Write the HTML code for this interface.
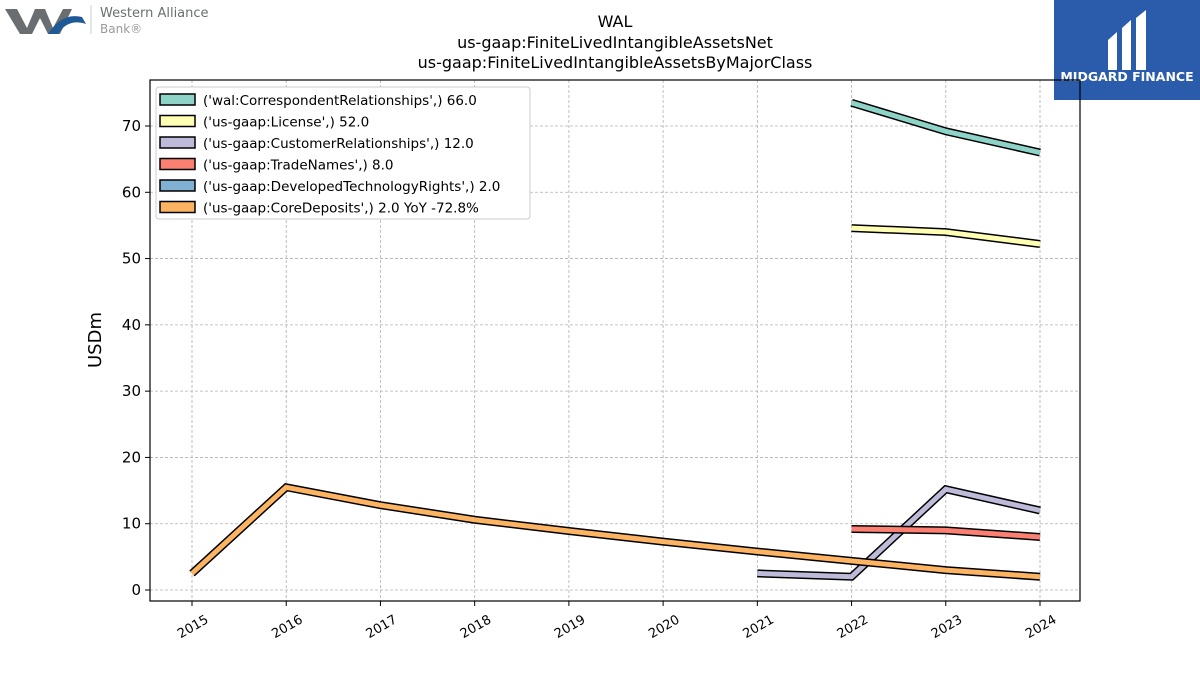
<!DOCTYPE html>
<html><head><meta charset="utf-8"><style>
body{margin:0;background:#fff;width:1200px;height:675px;overflow:hidden;font-family:"Liberation Sans","DejaVu Sans",sans-serif}
svg text{font-family:"DejaVu Sans","Liberation Sans",sans-serif}
</style></head><body>
<svg id="chart" width="1200" height="675" xmlns="http://www.w3.org/2000/svg">
<g>
<polygon points="5,9 17,9 27,28 35,9 45,9 53,28 63,9 72,9 60,34 48,34 40,18 32,34 20,34" fill="#6b6e70"/>
<path d="M48,34 Q62,12 82,17 L86,24 Q68,18 58,34 Z" fill="#1f5a96"/>
<line x1="91" y1="5" x2="91" y2="34" stroke="#ccc"/>
<text x="100" y="17" font-size="13" fill="#6b6e70">Western Alliance</text>
<text x="100" y="33" font-size="12" fill="#999">Bank®</text>
</g>
<g>
<rect x="1054" y="0" width="146" height="100" fill="#2b5cab"/>
<path d="M1108,40 L1117,32 L1117,70 L1108,70 Z M1122,28 L1131,20 L1131,70 L1122,70 Z M1136,18 L1146,10 L1146,70 L1136,70 Z" fill="#fff"/>
<text x="1127" y="81" font-size="12.5" font-weight="bold" fill="#fff" text-anchor="middle">MIDGARD FINANCE</text>
</g>
<text x="615" y="27" font-size="16" text-anchor="middle">WAL</text>
<text x="615" y="48" font-size="16" text-anchor="middle">us-gaap:FiniteLivedIntangibleAssetsNet</text>
<text x="615" y="68" font-size="16" text-anchor="middle">us-gaap:FiniteLivedIntangibleAssetsByMajorClass</text>
<text transform="translate(101,340) rotate(-90)" font-size="18" text-anchor="middle">USDm</text>
<g id="grid"></g><g id="axes"></g><g id="series"></g><g id="legend"></g>
</svg>
<script>
const years=[2015,2016,2017,2018,2019,2020,2021,2022,2023,2024];
const yTicks=[0,10,20,30,40,50,60,70];
const seriesNames=["('wal:CorrespondentRelationships',) 66.0","('us-gaap:License',) 52.0","('us-gaap:CustomerRelationships',) 12.0","('us-gaap:TradeNames',) 8.0","('us-gaap:DevelopedTechnologyRights',) 2.0","('us-gaap:CoreDeposits',) 2.0 YoY -72.8%"];
const seriesColors=["#8dd3c7","#ffffb3","#bebada","#fb8072","#80b1d3","#fdb462"];
const correspondent=[null,null,null,null,null,null,null,73.5,69.2,66.0];
const license=[null,null,null,null,null,null,null,54.6,54.0,52.2];
const customer=[null,null,null,null,null,null,2.5,2.0,15.2,12.0];
const tradeNames=[null,null,null,null,null,null,null,9.2,9.0,8.0];
const developedTech=[null,null,null,null,null,null,null,null,null,null];
const coreDeposits=[2.5,15.5,12.8,10.6,8.9,7.3,5.8,4.4,3.0,2.0];
const allSeries=[correspondent,license,customer,tradeNames,developedTech,coreDeposits];
const NS="http://www.w3.org/2000/svg";
const L=150,R=1080,T=80,B=601;
const xS=y=>192+(y-2015)*(1040-192)/9;
const yS=v=>590-v*(590-126)/70;
function mk(t,a,p){const e=document.createElementNS(NS,t);for(const k in a)e.setAttribute(k,a[k]);p.appendChild(e);return e;}
const grid=document.getElementById('grid'),axes=document.getElementById('axes'),ser=document.getElementById('series'),leg=document.getElementById('legend');
years.forEach(y=>{
 const g=mk('line',{x1:xS(y),x2:xS(y),y1:T,y2:B,stroke:'#b0b0b0','stroke-dasharray':'3,2','stroke-width':0.8},grid);
 
 
 mk('line',{x1:xS(y),x2:xS(y),y1:B,y2:B+5,stroke:'#000'},axes);
 const t=mk('text',{x:xS(y),y:B+30,'font-size':13,'text-anchor':'middle',transform:`rotate(-30 ${xS(y)} ${B+24})`},axes);
 t.textContent=y;
 
 
});
yTicks.forEach(v=>{
 const g=mk('line',{x1:L,x2:R,y1:yS(v),y2:yS(v),stroke:'#b0b0b0','stroke-dasharray':'3,2','stroke-width':0.8},grid);
 
 
 mk('line',{x1:L-5,x2:L,y1:yS(v),y2:yS(v),stroke:'#000'},axes);
 const t=mk('text',{x:L-9,y:yS(v)+5,'font-size':15,'text-anchor':'end'},axes);
 t.textContent=v;
 
 
});
const fr=mk('rect',{x:L,y:T,width:R-L,height:B-T,fill:'none',stroke:'#000','stroke-width':1.2},axes);


allSeries.forEach((s,i)=>{
 let segs=[],cur=[];
 s.forEach((v,j)=>{if(v==null){if(cur.length)segs.push(cur);cur=[];}else cur.push([xS(years[j]),yS(v)]);});
 if(cur.length)segs.push(cur);
 segs.forEach(seg=>{
  if(seg.length<2)return;
  const d=seg.map((p,k)=>(k?'L':'M')+p[0]+','+p[1]).join(' ');
  mk('path',{d,fill:'none',stroke:'#000','stroke-width':8},ser);
  const p=mk('path',{d,fill:'none',stroke:seriesColors[i],'stroke-width':5},ser);
  
  
 });
});
const lb=mk('rect',{x:156,y:87,width:374,height:132,fill:'#fff',stroke:'#ccc',rx:3},leg);


seriesNames.forEach((n,i)=>{
 const y=100+i*21.5;
 const r=mk('rect',{x:160,y:y-6,width:35,height:11,fill:seriesColors[i],stroke:'#000','stroke-width':1.5},leg);
 
 
 const t=mk('text',{x:203,y:y+5,'font-size':13.5},leg);
 t.textContent=n;
 
 
});
</script>
</body></html>
